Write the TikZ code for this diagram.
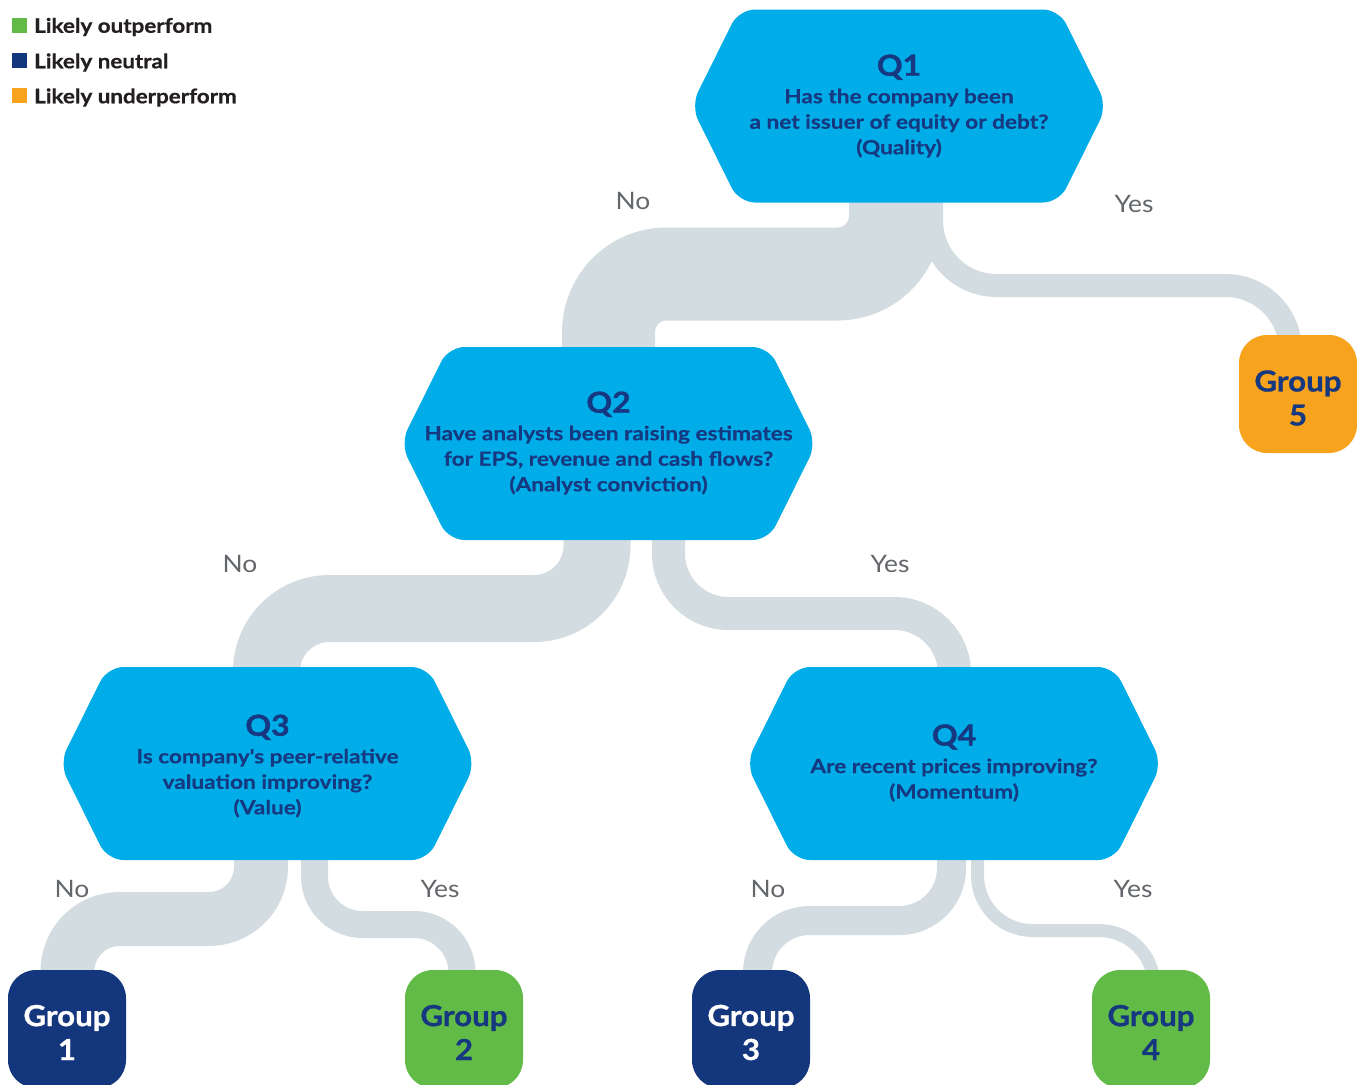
\documentclass[tikz,border=0pt]{standalone}
\usepackage{fontspec}
\setmainfont{Lato}
\newfontfamily\qfont{Lato}[UprightFont={* Bold}, FakeStretch=1.16, FakeBold=0.4]
\newfontfamily\qtitlefont{Lato}[UprightFont={* Bold}, FakeStretch=1.1, FakeBold=1.2]
\newfontfamily\grpfont{Lato}[UprightFont={* Bold}, FakeStretch=1.08, FakeBold=0.8]
\newfontfamily\legfont{Lato}[UprightFont={* Bold}, FakeStretch=1.12, FakeBold=0.8]
\newfontfamily\lblfont{Lato}[FakeStretch=1.1]
\definecolor{qcyan}{RGB}{0,173,232}
\definecolor{qnavy}{RGB}{22,56,128}
\definecolor{gnavy}{RGB}{20,54,124}
\definecolor{ggreen}{RGB}{98,187,70}
\definecolor{gorange}{RGB}{247,163,29}
\definecolor{bandgray}{RGB}{211,220,225}
\definecolor{lblgray}{RGB}{99,102,106}
\definecolor{legtext}{RGB}{35,31,32}
\tikzset{
  band/.style={draw=bandgray, line cap=butt, line join=round},
  hexshape/.style={fill=qcyan, rounded corners=16pt},
  qtext/.style={text=qnavy, align=center, inner sep=0pt, font=\qfont\fontsize{19.5}{25.5}\selectfont},
  grpbox/.style={rounded corners=28pt, minimum width=118pt, minimum height=118pt, inner sep=0pt, align=center, font=\grpfont\fontsize{29}{34}\selectfont},
  lbl/.style={text=lblgray, inner sep=0pt, font=\lblfont\fontsize{24}{24}\selectfont},
  legtxt/.style={text=legtext, anchor=west, inner sep=0pt, font=\legfont\fontsize{20}{20}\selectfont},
}
\newcommand\myhex[2]{%
  \path[hexshape] (#1-160,#2-96.5) -- (#1+160,#2-96.5) -- (#1+208,#2) -- (#1+160,#2+96.5) -- (#1-160,#2+96.5) -- (#1-208,#2) -- cycle;}
\newcommand\qtitle[1]{{\qtitlefont\fontsize{29}{29}\selectfont #1}}
\begin{document}
\begin{tikzpicture}[x=1pt,y=-1pt]
\useasboundingbox (0,0) rectangle (1357,1084);
\clip (0,0) rectangle (1357,1084);
\fill[white] (0,0) rectangle (1357,1084);

% connector anchor coordinates (start under parent, corner at child column, end under child)
\coordinate (q1no) at (895.5,150);   \coordinate (q1nom) at (608.5,274);    \coordinate (q2in) at (608.5,400);
\coordinate (q1yes) at (931.5,150);  \coordinate (q1yesm) at (1290.5,285.5); \coordinate (g5in) at (1290.5,380);
\coordinate (q2no) at (597,500);     \coordinate (q2nom) at (266.5,608.5);  \coordinate (q3in) at (266.5,700);
\coordinate (q2yes) at (668.5,500);  \coordinate (q2yesm) at (954.5,613.5); \coordinate (q4in) at (954.5,700);
\coordinate (q3no) at (261,830);     \coordinate (q3nom) at (67.5,919);     \coordinate (g1in) at (67.5,1000);
\coordinate (q3yes) at (314.5,830);  \coordinate (q3yesm) at (462,924.5);   \coordinate (g2in) at (462,1000);
\coordinate (q4no) at (951.5,830);   \coordinate (q4nom) at (757.5,920.5);  \coordinate (g3in) at (757.5,1000);
\coordinate (q4yes) at (977.5,830);  \coordinate (q4yesm) at (1154,930.5);  \coordinate (g4in) at (1154,1000);

% connectors (bands)
\draw[band, line width=93pt, rounded corners=58pt] (q1no) |- (q1nom) -- (q2in);
\draw[band, line width=23pt, rounded corners=65pt] (q1yes) |- (q1yesm) -- (g5in);
\draw[band, line width=67pt, rounded corners=63pt] (q2no) |- (q2nom) -- (q3in);
\draw[band, line width=33pt, rounded corners=60pt] (q2yes) |- (q2yesm) -- (q4in);
\draw[band, line width=54pt, rounded corners=52pt] (q3no) |- (q3nom) -- (g1in);
\draw[band, line width=27pt, rounded corners=48pt] (q3yes) |- (q3yesm) -- (g2in);
\draw[band, line width=29pt, rounded corners=52pt] (q4no) |- (q4nom) -- (g3in);
\draw[band, line width=13pt, rounded corners=55pt] (q4yes) |- (q4yesm) -- (g4in);

% hexagons
\myhex{899}{106}
\myhex{608.5}{443.5}
\myhex{267.5}{763.5}
\myhex{954}{763.5}

\node[qtext] (q1) at (899,106) {\qtitle{Q1}\\[2pt]Has the company been\\a net issuer of equity or debt?\\(Quality)};
\node[qtext] (q2) at (608.5,443) {\qtitle{Q2}\\[2pt]Have analysts been raising estimates\\for EPS, revenue and cash flows?\\(Analyst conviction)};
\node[qtext] (q3) at (267.5,766) {\qtitle{Q3}\\[2pt]Is company's peer-relative\\valuation improving?\\(Value)};
\node[qtext] (q4) at (954,763) {\qtitle{Q4}\\[2pt]Are recent prices improving?\\(Momentum)};

% groups
\node[grpbox, fill=gnavy, text=white] (g1) at (67,1029) {};
\node[grpbox, fill=ggreen, text=qnavy] (g2) at (464,1029) {};
\node[grpbox, fill=gnavy, text=white] (g3) at (751,1029) {};
\node[grpbox, fill=ggreen, text=qnavy] (g4) at (1151,1029) {};
\node[grpbox, fill=gorange, text=qnavy] (g5) at (1298,394) {};
\node[grpbox, text=white] (g1t) at (67,1032.5) {Group\\1};
\node[grpbox, text=qnavy] (g2t) at (464,1032.5) {Group\\2};
\node[grpbox, text=white] (g3t) at (751,1032.5) {Group\\3};
\node[grpbox, text=qnavy] (g4t) at (1151,1032.5) {Group\\4};
\node[grpbox, text=qnavy] (g5t) at (1298,398) {Group\\5};

% branch labels
\node[lbl] (l1n) at (633,201) {No};
\node[lbl] (l1y) at (1134,204) {Yes};
\node[lbl] (l2n) at (240,564) {No};
\node[lbl] (l2y) at (890,564) {Yes};
\node[lbl] (l3n) at (72,889) {No};
\node[lbl] (l3y) at (440,889) {Yes};
\node[lbl] (l4n) at (768,889) {No};
\node[lbl] (l4y) at (1133,889) {Yes};

% legend
\fill[ggreen] (12,17.5) rectangle (27,32.5);
\fill[gnavy] (12,53) rectangle (27,68);
\fill[gorange] (12,88) rectangle (27,103);
\node[legtxt] (lg1) at (34,27) {Likely outperform};
\node[legtxt] (lg2) at (34,62.5) {Likely neutral};
\node[legtxt] (lg3) at (34,97.5) {Likely underperform};
\end{tikzpicture}
\end{document}
